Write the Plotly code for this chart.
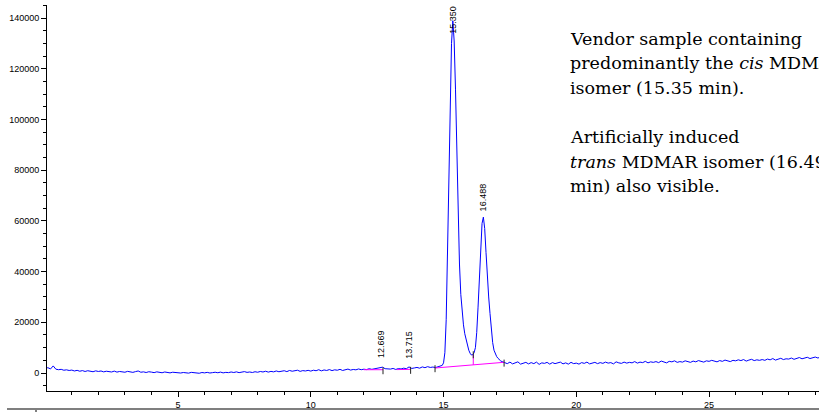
import numpy as np
import plotly.graph_objects as go

# ---------------- data ----------------
# baseline region before the main peaks, sampled every 0.1 min from 0.0 min
pre_start, pre_step = 0.0, 0.1
pre_vals = [
    1800, 2100, 1600, 2800, 1500, 1300, 1450, 1100, 1250, 1000,
    1150, 800, 1050, 700, 950, 600, 900, 750, 500, 850,
    600, 800, 450, 700, 550, 400, 750, 350, 600, 500,
    300, 650, 400, 250, 550, 800, 300, 450, 200, 500,
    350, 150, 450, 250, 100, 400, 200, 50, 300, 150,
    250, 0, 200, 100, -50, 250, 50, 150, -100, 200,
    50, 250, 0, 150, 300, 100, 350, 50, 250, 150,
    400, 200, 450, 150, 350, 550, 250, 400, 200, 500,
    300, 600, 400, 700, 350, 650, 450, 800, 500, 700,
    900, 550, 1000, 700, 850, 1100, 650, 950, 800, 1050,
    750, 1100, 900, 1300, 850, 1200, 1000, 1350, 950, 1250,
    1100, 1450, 1000, 1300, 1550, 1150, 1400, 1250, 1600, 1300,
    1500, 1350, 1700, 1450, 1600, 1800, 2000, 2300, 1700, 1650,
    1550, 1800, 1400, 1750, 1600, 1900, 1700, 2400, 1800, 2000,
    2200, 1900, 2400, 2100, 2500, 2200, 2350, 2150,
]
# peak region, sampled every 0.05 min from 14.75 min
peak_start, peak_step = 14.75, 0.05
peak_vals = [
    2300, 2400, 2500, 2700, 3000, 4000, 8000, 21000, 46000, 80000,
    107000, 130000, 139000, 131000, 112000, 88000, 64000, 43000, 31000, 23500,
    19000, 15500, 13000, 11000, 9000, 7800, 7100, 7200, 8000, 10000,
    16000, 26000, 38000, 50000, 59000, 61500, 57000, 47500, 37500, 30000,
    23500, 17000, 12000, 9000, 7500, 6500, 5800, 5200, 4800, 4500,
    4200, 4100,
]
# baseline after the peaks, sampled every 0.1 min from 17.4 min
post_start, post_step = 17.4, 0.1
post_vals = [
    3700, 4300, 3600, 4000, 4400, 3500,
    3900, 4200, 3600, 4100, 3700, 4300, 3400, 4000, 3800, 4200,
    3500, 4100, 3700, 3900, 4300, 3600, 4000, 3500, 4200, 3700,
    3900, 3500, 4100, 3800, 4300, 3600, 4000, 4200, 3700, 4100,
    3800, 4300, 3900, 4100, 3600, 4400, 4000, 3800, 4300, 3900,
    4200, 4000, 4500, 3900, 4300, 4100, 4600, 4000, 4400, 4200,
    4500, 4100, 4700, 4300, 4000, 4600, 4400, 4800, 4200, 4500,
    4300, 4800, 4500, 4200, 4700, 4400, 4900, 4600, 4300, 4800,
    4600, 5000, 4700, 4400, 4900, 4600, 5100, 4800, 4500, 5000,
    4800, 5200, 4900, 5300, 4700, 5100, 5400, 4900, 5200, 5000,
    5300, 5000, 5500, 5200, 5700, 5100, 5400, 5800, 5300, 5600,
    5500, 5900, 5400, 5700, 6100, 5600, 5900, 6200, 5700, 6000,
    6300, 5900, 6400,
]

# integration baselines (start time, start value, end time, end value)
base_t0 = [12.0, 13.24, 14.68]
base_v0 = [1300, 1350, 1970]
base_t1 = [12.72, 13.76, 17.28]
base_v1 = [1300, 1450, 4220]
# valley drop line
drop_t = 16.12
drop_v = [3216, 7200]
# integration event marks
event_t = [12.72, 13.76, 14.68, 16.12, 17.28]
event_v = [900, 1050, 1700, 7200, 3900]

# peak labels
peak_rt = [12.669, 13.715, 15.350, 16.488]
peak_lbl = ["12.669", "13.715", "15.350", "16.488"]
peak_lbl_y = [5000, 5000, 133000, 63000]

note_lines = [
    "Vendor sample containing",
    "predominantly the <i>cis</i> MDMAR",
    "isomer (15.35 min).",
    "Artificially induced",
    "<i>trans</i> MDMAR isomer (16.49",
    "min) also visible.",
]
note_py = [39, 63.5, 88, 137, 161.5, 186]

x_ticks = [5, 10, 15, 20, 25]
y_ticks = [0, 20000, 40000, 60000, 80000, 100000, 120000, 140000]

# ---------------- build ----------------
def grid(start, step, n):
    return [round(start + i * step, 3) for i in range(n)]

t = grid(pre_start, pre_step, len(pre_vals)) + grid(peak_start, peak_step, len(peak_vals)) \
    + grid(post_start, post_step, len(post_vals))
v = pre_vals + peak_vals + post_vals

fig = go.Figure()
fig.add_trace(go.Scatter(x=t, y=v, mode="lines", line=dict(color="#0000FF", width=1),
                         showlegend=False, hoverinfo="skip"))
for a0, b0, a1, b1 in zip(base_t0, base_v0, base_t1, base_v1):
    fig.add_trace(go.Scatter(x=[a0, a1], y=[b0, b1], mode="lines",
                             line=dict(color="#FF00FF", width=1), showlegend=False))
fig.add_trace(go.Scatter(x=[drop_t, drop_t], y=drop_v, mode="lines",
                         line=dict(color="#FF00FF", width=1), showlegend=False))
fig.add_trace(go.Scatter(x=event_t, y=event_v, mode="markers",
                         marker=dict(symbol="line-ns", size=5, line=dict(color="#222222", width=1)),
                         showlegend=False))

for rt, lb, ly in zip(peak_rt, peak_lbl, peak_lbl_y):
    fig.add_annotation(x=rt, y=ly, text=lb, textangle=-90, showarrow=False,
                       xanchor="center", yanchor="bottom",
                       font=dict(family="Liberation Sans", size=9, color="black"))

W, H = 819, 412
L, R, T, B = 47, 0, 5, 21
pw, ph = W - L - R, H - T - B
for line, py in zip(note_lines, note_py):
    fig.add_annotation(xref="paper", yref="paper", x=(568 - L) / pw, y=(H - B - py) / ph,
                       text=line, showarrow=False, xanchor="left", yanchor="middle",
                       font=dict(family="DejaVu Serif", size=17.5, color="black"))

# document rule under the chart
fig.add_shape(type="line", xref="paper", yref="paper",
              x0=(7 - L) / pw, x1=1.01, y0=(H - B - 409) / ph, y1=(H - B - 409) / ph,
              line=dict(color="black", width=1.2))
fig.add_shape(type="line", xref="paper", yref="paper",
              x0=(36 - L) / pw, x1=(36 - L) / pw, y0=(H - B - 410) / ph, y1=(H - B - 413) / ph,
              line=dict(color="black", width=1))

tickfont = dict(family="Liberation Sans", size=9, color="black")
fig.update_xaxes(range=[0.066, 29.14], tickvals=x_ticks, ticks="outside", ticklen=5,
                 tickcolor="black", showline=True, linecolor="black", linewidth=1,
                 showgrid=False, zeroline=False, tickfont=tickfont,
                 minor=dict(dtick=1, tick0=0, ticks="outside", ticklen=3, tickcolor="black"))
fig.update_yaxes(range=[-7100, 145200], tickvals=y_ticks, tickformat="d", ticks="outside",
                 ticklen=5, tickcolor="black", showline=True, linecolor="black", linewidth=1,
                 showgrid=False, zeroline=False, tickfont=tickfont,
                 minor=dict(dtick=5000, tick0=0, ticks="outside", ticklen=3, tickcolor="black"))
fig.update_layout(width=W, height=H, margin=dict(l=L, r=R, t=T, b=B),
                  plot_bgcolor="white", paper_bgcolor="white", showlegend=False)

fig.write_html("out.html")
